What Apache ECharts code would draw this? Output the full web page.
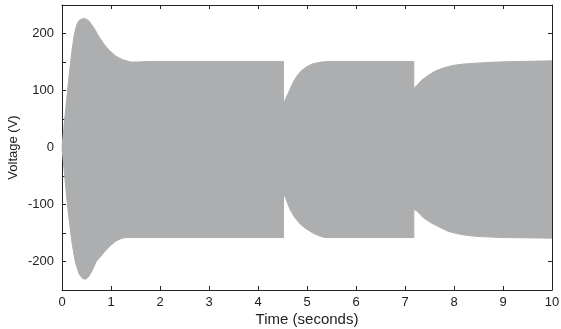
<!DOCTYPE html>
<html>
<head>
<meta charset="utf-8">
<script src="https://cdn.jsdelivr.net/npm/echarts@6/dist/echarts.min.js"></script>
<style>
html,body{margin:0;padding:0;background:#fff;}
#chart{width:561px;height:329px;}
</style>
</head>
<body>
<div id="chart"></div>
<script>
// Upper envelope of the voltage waveform (time in s, voltage in V)
const upperT = [0, 0.05, 0.1, 0.15, 0.2, 0.25, 0.3, 0.35, 0.42, 0.48, 0.55, 0.65, 0.75, 0.85, 0.97, 1.1, 1.24, 1.4, 1.55, 1.8,
  4.52, 4.52, 4.56, 4.61, 4.72, 4.8, 4.89, 5.0, 5.12, 5.3, 5.46,
  7.18, 7.18, 7.22, 7.34, 7.5, 7.64, 7.8, 7.98, 8.2, 8.46, 8.9, 9.35, 10];
const upperV = [0, 45, 88, 130, 168, 198, 215, 223, 226, 226, 222, 210, 195, 182, 170, 160, 154, 150, 150, 151,
  151, 77, 80, 94, 115, 126, 135, 142, 147, 150, 151,
  151, 103, 104, 118, 128, 135, 140, 144, 146.5, 148, 150, 151, 152];
// Lower envelope
const lowerT = [0, 0.05, 0.11, 0.2, 0.27, 0.35, 0.42, 0.48, 0.55, 0.62, 0.7, 0.8, 0.9, 1.0, 1.1, 1.2, 1.3, 1.6,
  4.52, 4.52, 4.56, 4.65, 4.75, 4.87, 4.99, 5.12, 5.25, 5.36, 5.6,
  7.18, 7.18, 7.25, 7.37, 7.55, 7.71, 7.88, 8.05, 8.25, 8.46, 9.0, 10];
const lowerV = [0, -45, -100, -165, -200, -222, -230, -231, -226, -215, -200, -190, -180, -171, -164, -160, -158, -158,
  -158, -82, -88, -108, -123, -135, -143, -150, -155, -158, -158,
  -158, -108, -112, -123, -133, -140, -147, -151, -154, -156, -158, -159];
const yTickLabels = [-200, -100, 0, 100, 200];

const fill = '#adaeb0';
const axisCol = '#222';
const font = 'Liberation Sans, Arial, Helvetica, sans-serif';

const chart = echarts.init(document.getElementById('chart'), null, {renderer: 'canvas'});
const zip = (a, b) => a.map((t, i) => [t, b[i]]);

const baseX = {
  type: 'value', min: 0, max: 10, interval: 1,
  axisLine: {show: true, onZero: false, lineStyle: {color: axisCol, width: 1}},
  axisTick: {show: true, inside: true, length: 4, lineStyle: {color: axisCol}},
  splitLine: {show: false}
};
const baseY = {
  type: 'value', min: -250, max: 250, interval: 50,
  axisLine: {show: true, onZero: false, lineStyle: {color: axisCol, width: 1}},
  axisTick: {show: true, inside: true, length: 4, lineStyle: {color: axisCol}},
  splitLine: {show: false}
};

chart.setOption({
  animation: false,
  backgroundColor: '#fff',
  grid: {left: 62, right: 9, top: 5, bottom: 39, containLabel: false, outerBoundsMode: 'none'},
  xAxis: [
    Object.assign({}, baseX, {
      position: 'bottom',
      name: 'Time (seconds)', nameLocation: 'middle', nameGap: 22, nameMoveOverlap: false,
      nameTextStyle: {fontFamily: font, fontSize: 15, color: axisCol},
      axisLabel: {show: true, margin: 6, fontFamily: font, fontSize: 13, color: axisCol}
    }),
    Object.assign({}, baseX, {position: 'top', axisLabel: {show: false}})
  ],
  yAxis: [
    Object.assign({}, baseY, {
      position: 'left',
      name: 'Voltage (V)', nameLocation: 'middle', nameGap: 42, nameRotate: 90, nameMoveOverlap: false,
      nameTextStyle: {fontFamily: font, fontSize: 13, color: axisCol},
      axisLabel: {show: true, margin: 8, fontFamily: font, fontSize: 13, color: axisCol,
        formatter: v => (yTickLabels.indexOf(v) >= 0 ? String(v) : '')}
    }),
    Object.assign({}, baseY, {position: 'right', axisLabel: {show: false}})
  ],
  series: [
    {
      type: 'line', xAxisIndex: 0, yAxisIndex: 0,
      data: zip(upperT, upperV), showSymbol: false, symbol: 'none',
      lineStyle: {color: fill, width: 1}, areaStyle: {color: fill, opacity: 1, origin: -3}
    },
    {
      type: 'line', xAxisIndex: 0, yAxisIndex: 0,
      data: zip(lowerT, lowerV), showSymbol: false, symbol: 'none',
      lineStyle: {color: fill, width: 1}, areaStyle: {color: fill, opacity: 1, origin: 3}
    }
  ]
});
</script>
</body>
</html>
